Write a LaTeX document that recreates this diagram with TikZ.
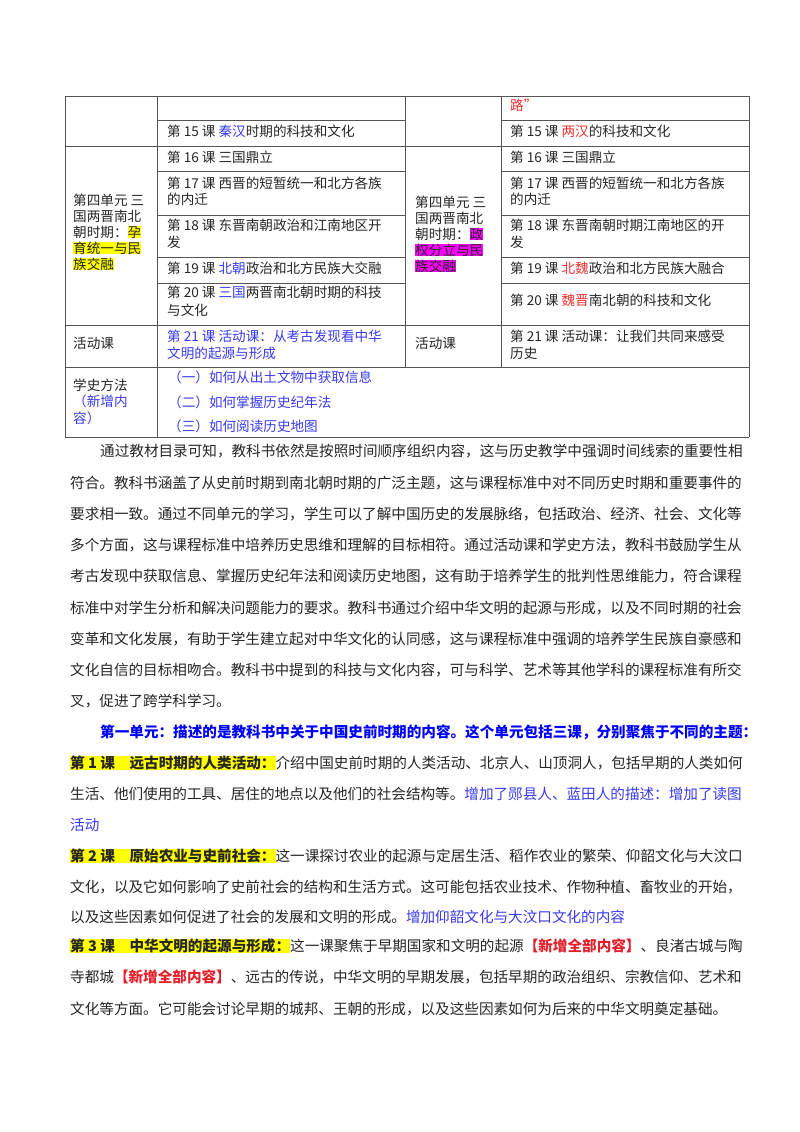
\documentclass[tikz,border=0pt]{standalone}
\usepackage{fontspec}
\setmainfont{Noto Sans CJK SC}
\definecolor{tb}{HTML}{3A3AF0}
\definecolor{hb}{HTML}{0000FF}
\definecolor{tr}{HTML}{F03030}
\definecolor{br}{HTML}{E3202A}
\definecolor{hy}{HTML}{FFFF00}
\definecolor{hm}{HTML}{FF00FF}
\definecolor{gr}{HTML}{555555}
\newcommand\hly[1]{{\setlength\fboxsep{0pt}\colorbox{hy}{#1}}}
\newcommand\hlm[1]{{\setlength\fboxsep{0pt}\colorbox{hm}{#1}}}
\begin{document}
\begin{tikzpicture}[x=1pt,y=-1pt,
  tt/.style={anchor=west,inner sep=0,font=\fontsize{13.6}{16}\selectfont,text=black!85},
  bt/.style={anchor=west,inner sep=0,font=\fontsize{14.6}{17}\selectfont,text=black!85},
  rule/.style={draw=gr,line width=0.9pt}]
\useasboundingbox[fill=white] (0,0) rectangle (800,1132);
% table lines
\draw[rule] (65,96) -- (749,96);
\draw[rule] (157,120) -- (405,120) (501,120) -- (749,120);
\draw[rule] (65,146) -- (749,146);
\foreach \y in {171,215,257,283}{\draw[rule] (157,\y) -- (405,\y) (501,\y) -- (749,\y);}
\draw[rule] (65,325) -- (749,325);
\draw[rule] (65,367) -- (749,367);
\draw[rule] (65,437) -- (749,437);
\draw[rule] (65,96) -- (65,437) (157,96) -- (157,437) (405,96) -- (405,367) (501,96) -- (501,367) (749,96) -- (749,437);
% table text left
\node[tt] (a1) at (167,131) {第 15 课 \textcolor{tb}{秦汉}时期的科技和文化};
\node[tt] (a2) at (167,157) {第 16 课 三国鼎立};
\node[tt] (a3) at (167,183) {第 17 课 西晋的短暂统一和北方各族};
\node[tt] (a3b) at (167,199) {的内迁};
\node[tt] (a4) at (167,225) {第 18 课 东晋南朝政治和江南地区开};
\node[tt] (a4b) at (167,242) {发};
\node[tt] (a5) at (167,268) {第 19 课 \textcolor{tb}{北朝}政治和北方民族大交融};
\node[tt] (a6) at (167,292) {第 20 课 \textcolor{tb}{三国}两晋南北朝时期的科技};
\node[tt] (a6b) at (167,310) {与文化};
\node[tt,text=tb] (a7) at (167,336) {第 21 课 活动课：从考古发现看中华};
\node[tt,text=tb] (a7b) at (167,353) {文明的起源与形成};
\node[tt] (u1) at (73,200) {第四单元 三};
\node[tt] (u2) at (73,216) {国两晋南北};
\node[tt] (u3) at (73,232) {朝时期：\hly{孕}};
\node[tt] (u4) at (73,248) {\hly{育统一与民}};
\node[tt] (u5) at (73,264) {\hly{族交融}};
\node[tt] (h1) at (73,343) {活动课};
\node[tt] (m1) at (73,385) {学史方法};
\node[tt,text=tb] (m2) at (73,401) {（新增内};
\node[tt,text=tb] (m3) at (73,418) {容）};
\node[tt,text=tb] (m4) at (168,377) {（一）如何从出土文物中获取信息};
\node[tt,text=tb] (m5) at (168,402) {（二）如何掌握历史纪年法};
\node[tt,text=tb] (m6) at (168,426) {（三）如何阅读历史地图};
% table text right
\node[tt,text=tr] (b0) at (510,105) {路”};
\node[tt] (b1) at (510,131) {第 15 课 \textcolor{tr}{两汉}的科技和文化};
\node[tt] (b2) at (510,157) {第 16 课 三国鼎立};
\node[tt] (b3) at (510,183) {第 17 课 西晋的短暂统一和北方各族};
\node[tt] (b3b) at (510,199) {的内迁};
\node[tt] (b4) at (510,225) {第 18 课 东晋南朝时期江南地区的开};
\node[tt] (b4b) at (510,242) {发};
\node[tt] (b5) at (510,268) {第 19 课 \textcolor{tr}{北魏}政治和北方民族大融合};
\node[tt] (b6) at (510,300) {第 20 课 \textcolor{tr}{魏晋}南北朝的科技和文化};
\node[tt] (b7) at (510,336) {第 21 课 活动课：让我们共同来感受};
\node[tt] (b7b) at (510,353) {历史};
\node[tt] (v1) at (415,202) {第四单元 三};
\node[tt] (v2) at (415,218) {国两晋南北};
\node[tt] (v3) at (415,234) {朝时期：\hlm{政}};
\node[tt] (v4) at (415,250) {\hlm{权分立与民}};
\node[tt] (v5) at (415,266) {\hlm{族交融}};
\node[tt] (h2) at (415,343) {活动课};
% body
\node[bt] (p1) at (100,451) {通过教材目录可知，教科书依然是按照时间顺序组织内容，这与历史教学中强调时间线索的重要性相};
\node[bt] (p2) at (70,483) {符合。教科书涵盖了从史前时期到南北朝时期的广泛主题，这与课程标准中对不同历史时期和重要事件的};
\node[bt] (p3) at (70,514) {要求相一致。通过不同单元的学习，学生可以了解中国历史的发展脉络，包括政治、经济、社会、文化等};
\node[bt] (p4) at (70,545) {多个方面，这与课程标准中培养历史思维和理解的目标相符。通过活动课和学史方法，教科书鼓励学生从};
\node[bt] (p5) at (70,576) {考古发现中获取信息、掌握历史纪年法和阅读历史地图，这有助于培养学生的批判性思维能力，符合课程};
\node[bt] (p6) at (70,608) {标准中对学生分析和解决问题能力的要求。教科书通过介绍中华文明的起源与形成，以及不同时期的社会};
\node[bt] (p7) at (70,639) {变革和文化发展，有助于学生建立起对中华文化的认同感，这与课程标准中强调的培养学生民族自豪感和};
\node[bt] (p8) at (70,670) {文化自信的目标相吻合。教科书中提到的科技与文化内容，可与科学、艺术等其他学科的课程标准有所交};
\node[bt] (p9) at (70,701) {叉，促进了跨学科学习。};
\node[bt,text=hb,font=\fontsize{14.6}{17}\selectfont\bfseries] (q0) at (100,732) {第一单元：描述的是教科书中关于中国史前时期的内容。这个单元包括三课，分别聚焦于不同的主题：};
\node[bt] (q1) at (70,763) {\hly{\bfseries 第 1 课\quad 远古时期的人类活动：}介绍中国史前时期的人类活动、北京人、山顶洞人，包括早期的人类如何};
\node[bt] (q2) at (70,794) {生活、他们使用的工具、居住的地点以及他们的社会结构等。\textcolor{tb}{增加了郧县人、蓝田人的描述：增加了读图}};
\node[bt,text=tb] (q3) at (70,825) {活动};
\node[bt] (q4) at (70,856) {\hly{\bfseries 第 2 课\quad 原始农业与史前社会：}这一课探讨农业的起源与定居生活、稻作农业的繁荣、仰韶文化与大汶口};
\node[bt] (q5) at (70,887) {文化，以及它如何影响了史前社会的结构和生活方式。这可能包括农业技术、作物种植、畜牧业的开始，};
\node[bt] (q6) at (70,917) {以及这些因素如何促进了社会的发展和文明的形成。\textcolor{tb}{增加仰韶文化与大汶口文化的内容}};
\node[bt] (q7) at (70,946) {\hly{\bfseries 第 3 课\quad 中华文明的起源与形成：}这一课聚焦于早期国家和文明的起源\textcolor{br}{\bfseries 【新增全部内容】}、良渚古城与陶};
\node[bt] (q8) at (70,977) {寺都城\textcolor{br}{\bfseries 【新增全部内容】}、远古的传说，中华文明的早期发展，包括早期的政治组织、宗教信仰、艺术和};
\node[bt] (q9) at (70,1009) {文化等方面。它可能会讨论早期的城邦、王朝的形成，以及这些因素如何为后来的中华文明奠定基础。};
\end{tikzpicture}
\end{document}
